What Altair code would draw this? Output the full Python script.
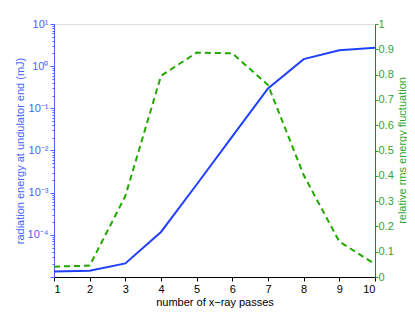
import altair as alt
import pandas as pd

passes = [1, 2, 3, 4, 5, 6, 7, 8, 9, 10]
energy_mJ = [1.35e-5, 1.4e-5, 2.1e-5, 1.17e-4, 1.56e-3, 2.16e-2, 0.295, 1.47, 2.39, 2.72]
rms_fluct = [0.041, 0.045, 0.32, 0.795, 0.887, 0.884, 0.759, 0.403, 0.14, 0.051]

left_major = [1e-5, 1e-4, 1e-3, 1e-2, 1e-1, 1, 10]
left_minor = [k * 10.0 ** n for n in range(-5, 1) for k in range(2, 10)]
right_ticks = [0, 0.1, 0.2, 0.3, 0.4, 0.5, 0.6, 0.7, 0.8, 0.9, 1]

BLUE = "#2040ff"
BLUE_TXT = "#4a63ff"
GREEN = "#22a800"
GREEN_TXT = "#2fa52f"
FONT = "Liberation Sans"

df = pd.DataFrame({"x": passes, "energy": energy_mJ, "fluct": rms_fluct})

xenc = alt.X(
    "x:Q",
    scale=alt.Scale(domain=[1, 10], nice=False),
    axis=alt.Axis(
        values=passes, format="d", title="number of x−ray passes",
        grid=False, domainColor="black", tickColor="black", tickSize=4,
        labelColor="black", titleColor="black", labelFontSize=11,
        titleFontSize=11, titleFontWeight="normal", labelPadding=2,
        titlePadding=2, labelFont=FONT, titleFont=FONT,
    ),
)

label_expr = (
    "abs(log(datum.value)/LN10 - round(log(datum.value)/LN10)) > 0.001 ? '' : "
    "round(log(datum.value)/LN10) == -4 ? '10⁻⁴' : "
    "round(log(datum.value)/LN10) == -3 ? '10⁻³' : "
    "round(log(datum.value)/LN10) == -2 ? '10⁻²' : "
    "round(log(datum.value)/LN10) == -1 ? '10⁻¹' : "
    "round(log(datum.value)/LN10) == 0 ? '10⁰' : "
    "round(log(datum.value)/LN10) == 1 ? '10¹' : ''"
)

blue = alt.Chart(df).mark_line(color=BLUE, strokeWidth=2).encode(
    x=xenc,
    y=alt.Y(
        "energy:Q",
        scale=alt.Scale(type="log", domain=[1e-5, 10], nice=False),
        axis=alt.Axis(
            orient="left", values=left_major + left_minor, labelExpr=label_expr,
            title="radiation energy at undulator end (mJ)", grid=False,
            domainColor=BLUE_TXT, tickColor=BLUE_TXT, labelColor=BLUE_TXT,
            titleColor=BLUE_TXT, labelFontSize=11, titleFontSize=11,
            titleFontWeight="normal", labelFont=FONT, titleFont=FONT,
            tickSize={"condition": {"test": "abs(log(datum.value)/LN10 - round(log(datum.value)/LN10)) < 0.001", "value": 4}, "value": 2},
            labelPadding=2, titlePadding=2, labelFlush=False,
        ),
    ),
)

green = alt.Chart(df).mark_line(color=GREEN, strokeWidth=2, strokeDash=[6, 4]).encode(
    x=xenc,
    y=alt.Y(
        "fluct:Q",
        scale=alt.Scale(domain=[0, 1], nice=False),
        axis=alt.Axis(
            orient="right", values=right_ticks,
            labelExpr="datum.value == 0 ? '0' : datum.value == 1 ? '1' : format(datum.value, '.1f')",
            title="relative rms energy fluctuation", grid=False,
            domainColor="#1a7a4a", tickColor=GREEN_TXT, labelColor=GREEN_TXT,
            titleColor=GREEN_TXT, labelFontSize=11, titleFontSize=11,
            titleFontWeight="normal", labelFont=FONT, titleFont=FONT,
            titleAngle=270, titleBaseline="middle", titleAlign="center",
            titleX=27, titleY=126,
            tickSize=3, labelPadding=0, labelFlush=False,
        ),
    ),
)

chart = (
    alt.layer(blue, green)
    .resolve_scale(y="independent")
    .properties(
        width=321, height=253,
        autosize=alt.AutoSizeParams(type="none"),
        padding={"left": 46, "top": 16, "right": 32, "bottom": 34},
    )
    .configure_view(stroke="black", strokeWidth=1)
    .configure(background="white")
)

chart.save("out.html", embed_options={"renderer": "svg", "actions": False})
